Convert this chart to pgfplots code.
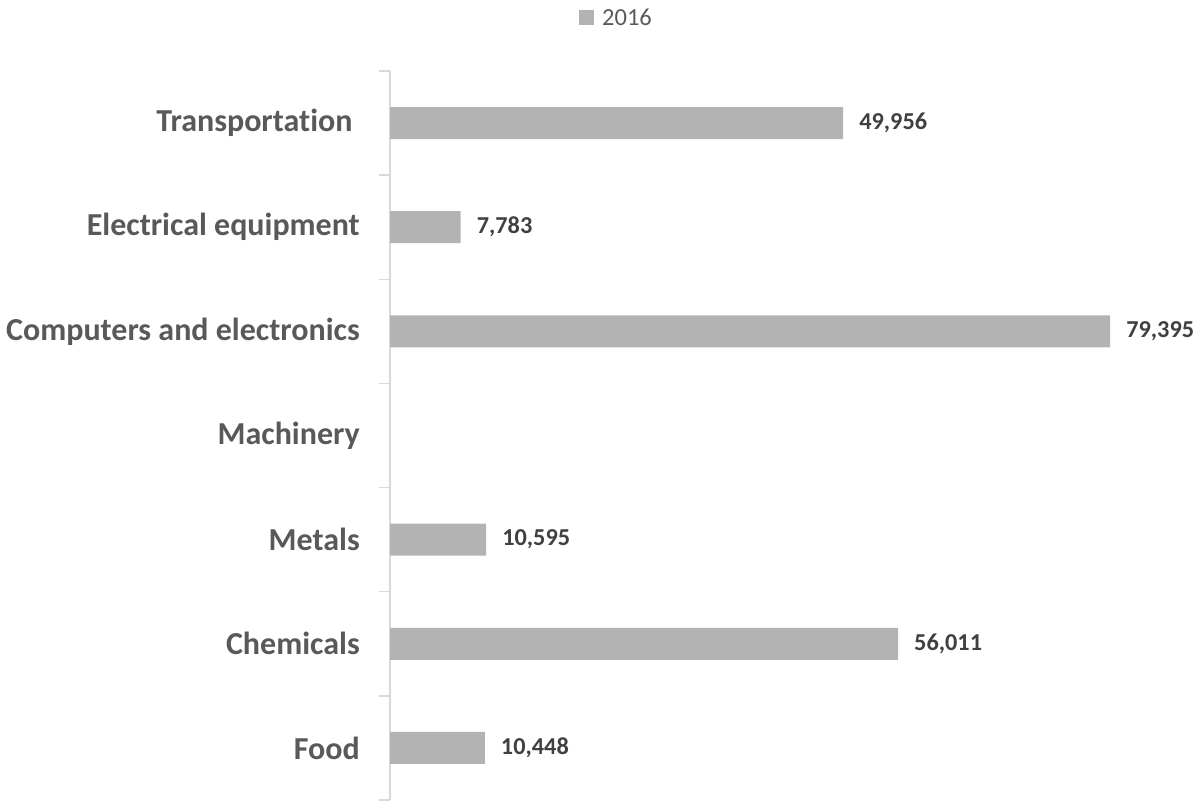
\documentclass[border=0pt]{standalone}
\usepackage{pgfplots}
\pgfplotsset{compat=1.18}
\usepackage{fontspec}
\setmainfont{Carlito}[Ligatures=NoCommon]
\definecolor{barc}{HTML}{B3B3B3}
\definecolor{catc}{HTML}{595959}
\definecolor{valc}{HTML}{404040}
\definecolor{axc}{HTML}{D9D9D9}
\begin{document}
\begin{tikzpicture}
\begin{axis}[
  at={(390pt,2pt)}, anchor=south west,
  scale only axis,
  width=725.6pt, height=729pt,
  xmin=0, xmax=80000,
  ymin=-0.5, ymax=6.5,
  xbar, bar width=32pt,
  hide x axis,
  axis y line*=left,
  y axis line style={draw=axc, line width=1.5pt},
  ytick={0,1,2,3,4,5,6},
  yticklabels={Food,Chemicals,Metals,Machinery,Computers and electronics,Electrical equipment,{Transportation\kern0.23em}},
  major tick length=0pt,
  minor ytick={-0.5,0.5,1.5,2.5,3.5,4.5,5.5,6.5},
  minor tick length=11pt,
  tick align=outside,
  minor tick style={draw=axc, line width=1.5pt},
  yticklabel style={font=\fontsize{32}{32}\selectfont\bfseries, text=catc, anchor=east, inner sep=0pt, xshift=-30pt},
  nodes near coords,
  point meta=x,
  nodes near coords style={font=\fontsize{24.3}{24.3}\selectfont\bfseries, text=valc, anchor=west, inner sep=0pt, xshift=16pt,
    /pgf/number format/.cd, fixed, precision=0, 1000 sep={,}, assume math mode=true},
  legend style={at={(axis description cs:0.3108,1.0727)}, anchor=center, draw=none, fill=none,
    font=\fontsize{24.5}{24.5}\selectfont, text=catc, inner sep=0pt,
    nodes={inner sep=0pt, anchor=west}},
  legend image code/.code={\fill[barc] (0pt,-7.5pt) rectangle (15pt,7.5pt); \path (23pt,0pt);},
]
\addplot[fill=barc, draw=none] coordinates {
  (10448,0) (56011,1) (10595,2) (79395,4) (7783,5) (49956,6)
};
\addlegendentry{2016}
\end{axis}
\pgfresetboundingbox
\path[use as bounding box] (0pt,0pt) rectangle (1201pt,802pt);
\end{tikzpicture}
\end{document}
